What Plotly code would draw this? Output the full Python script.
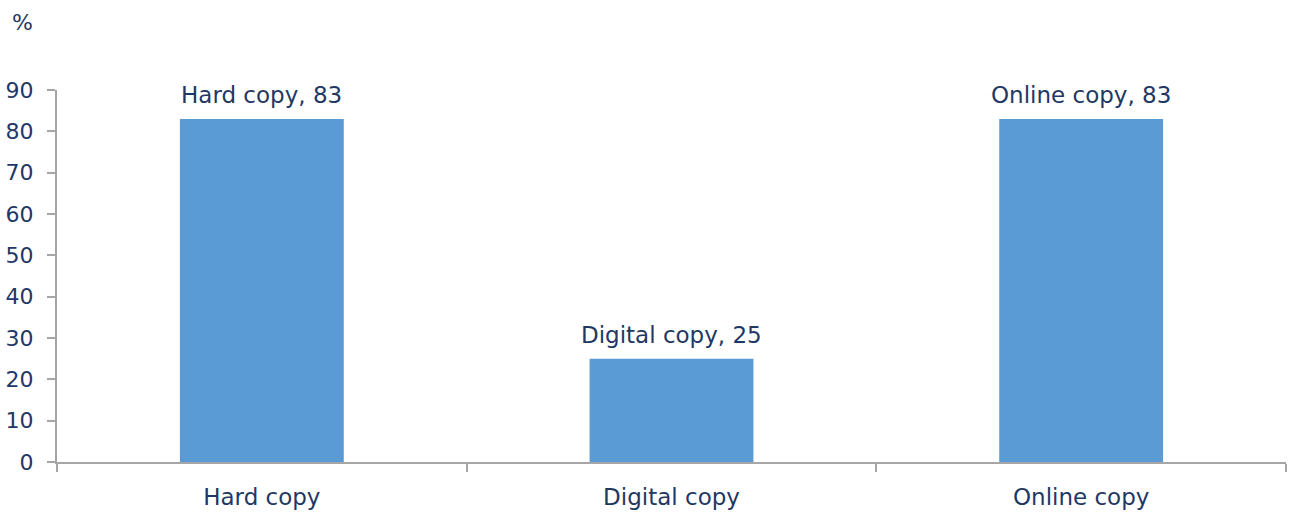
import plotly.graph_objects as go

categories = ["Hard copy", "Digital copy", "Online copy"]
values = [83, 25, 83]
y_ticks = [0, 10, 20, 30, 40, 50, 60, 70, 80, 90]

text_color = "#1F3864"
axis_color = "#A6A6A6"
bar_color = "#5B9BD5"
font_family = "DejaVu Sans"

W, H = 1289, 512
margin = dict(l=57, r=3, t=90, b=50)
plot_w = W - margin["l"] - margin["r"]
plot_h = H - margin["t"] - margin["b"]

fig = go.Figure(
    go.Bar(
        x=categories,
        y=values,
        marker=dict(color=bar_color, line=dict(width=0)),
        hoverinfo="skip",
    )
)

# value labels above each bar
annotations = [
    dict(
        x=c, y=v, xref="x", yref="y", text=f"{c}, {v}",
        showarrow=False, xanchor="center", yanchor="bottom", yshift=9,
        font=dict(family=font_family, size=23, color=text_color),
    )
    for c, v in zip(categories, values)
]
# unit label in the top-left corner
annotations.append(
    dict(
        text="%", x=(10 - margin["l"]) / plot_w, y=1 + (margin["t"] - 23) / plot_h,
        xref="paper", yref="paper", xanchor="left", yanchor="middle",
        showarrow=False, font=dict(family=font_family, size=22, color=text_color),
    )
)

fig.update_layout(
    width=W,
    height=H,
    margin=margin,
    paper_bgcolor="white",
    plot_bgcolor="white",
    bargap=0.6,
    showlegend=False,
    font=dict(family=font_family, size=22, color=text_color),
    annotations=annotations,
)

fig.update_xaxes(
    type="category",
    showline=True,
    linecolor=axis_color,
    linewidth=2,
    ticks="outside",
    tickson="boundaries",
    ticklen=8,
    tickwidth=2,
    tickcolor=axis_color,
    showgrid=False,
    tickfont=dict(family=font_family, size=23, color=text_color),
    ticklabelstandoff=13,
)
fig.update_yaxes(
    range=[0, 90],
    tickvals=y_ticks,
    showline=True,
    linecolor=axis_color,
    linewidth=2,
    ticks="outside",
    ticklen=8,
    tickwidth=2,
    tickcolor=axis_color,
    showgrid=False,
    zeroline=False,
    tickfont=dict(family=font_family, size=22, color=text_color),
    ticklabelstandoff=9,
)

fig.write_html("out.html")
